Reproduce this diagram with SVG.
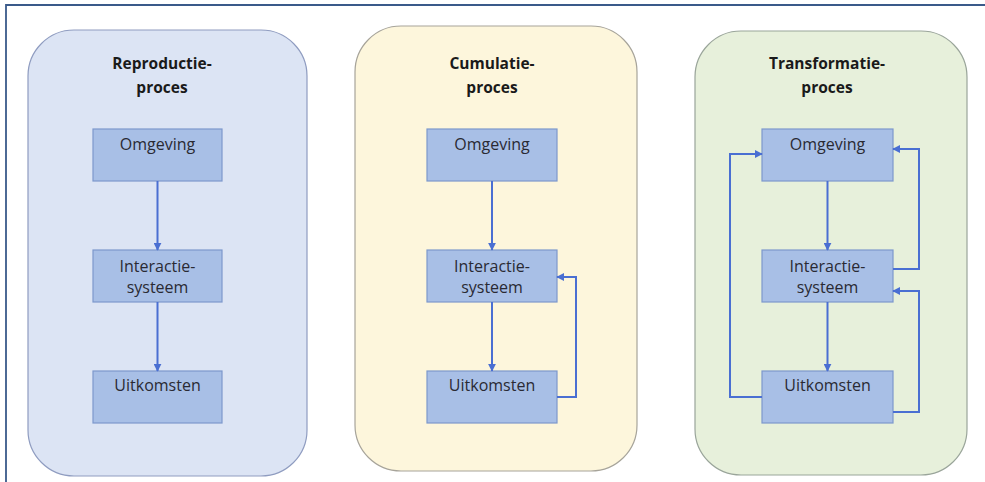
<svg xmlns="http://www.w3.org/2000/svg" width="985" height="482" viewBox="0 0 985 482">
  <style>
    .panel { stroke-width: 1.2; }
    .box { fill: #a8bfe6; stroke: #7d98cc; stroke-width: 1.2; }
    .title { font-family: "Open Sans", "Liberation Sans", sans-serif; font-size: 15.5px; font-weight: bold; fill: #1a1a1a; text-anchor: middle; }
    .label { font-family: "Open Sans", "Liberation Sans", sans-serif; font-size: 16px; fill: #2a2a33; text-anchor: middle; }
    .conn { fill: none; stroke: #4a6fd2; stroke-width: 2; marker-end: url(#arrow); }
  </style>
  <defs>
    <marker id="arrow" viewBox="0 0 10 10" refX="9" refY="5" markerWidth="4" markerHeight="4" orient="auto" markerUnits="strokeWidth">
      <path d="M0,0 L10,5 L0,10 z" fill="#4a6fd2"/>
    </marker>
  </defs>

  <rect width="985" height="482" fill="#ffffff"/>
  <!-- frame -->
  <path d="M6,482 V5 H985" fill="none" stroke="#3a5a8a" stroke-width="1.8"/>

  <!-- panel backgrounds -->
  <g id="panel-reproductie">
    <rect class="panel" x="28" y="30" width="279" height="446" rx="46" fill="#dce4f4" stroke="#8f9cc0"/>
    <text class="title" x="162" y="69">Reproductie-</text>
    <text class="title" x="162" y="93">proces</text>
  </g>
  <g id="panel-cumulatie">
    <rect class="panel" x="355" y="26" width="282" height="445" rx="46" fill="#fdf6dc" stroke="#a7a49a"/>
    <text class="title" x="492" y="69">Cumulatie-</text>
    <text class="title" x="492" y="93">proces</text>
  </g>
  <g id="panel-transformatie">
    <rect class="panel" x="695" y="31" width="272" height="444" rx="46" fill="#e7f0db" stroke="#9aa59a"/>
    <text class="title" x="827" y="69">Transformatie-</text>
    <text class="title" x="827" y="93">proces</text>
  </g>

  <!-- reproductie nodes -->
  <g id="r-omgeving">
    <rect class="box" x="93" y="129" width="129" height="52"/>
    <text class="label" x="157.5" y="150">Omgeving</text>
  </g>
  <g id="r-interactie">
    <rect class="box" x="93" y="250" width="129" height="52"/>
    <text class="label" x="157.5" y="272">Interactie-</text>
    <text class="label" x="157.5" y="293">systeem</text>
  </g>
  <g id="r-uitkomsten">
    <rect class="box" x="93" y="371" width="129" height="52"/>
    <text class="label" x="157.5" y="391">Uitkomsten</text>
  </g>

  <!-- cumulatie nodes -->
  <g id="c-omgeving">
    <rect class="box" x="427" y="129" width="130" height="52"/>
    <text class="label" x="492" y="150">Omgeving</text>
  </g>
  <g id="c-interactie">
    <rect class="box" x="427" y="250" width="130" height="52"/>
    <text class="label" x="492" y="272">Interactie-</text>
    <text class="label" x="492" y="293">systeem</text>
  </g>
  <g id="c-uitkomsten">
    <rect class="box" x="427" y="371" width="130" height="52"/>
    <text class="label" x="492" y="391">Uitkomsten</text>
  </g>

  <!-- transformatie nodes -->
  <g id="t-omgeving">
    <rect class="box" x="762" y="129" width="131" height="52"/>
    <text class="label" x="827.5" y="150">Omgeving</text>
  </g>
  <g id="t-interactie">
    <rect class="box" x="762" y="250" width="131" height="52"/>
    <text class="label" x="827.5" y="272">Interactie-</text>
    <text class="label" x="827.5" y="293">systeem</text>
  </g>
  <g id="t-uitkomsten">
    <rect class="box" x="762" y="371" width="131" height="52"/>
    <text class="label" x="827.5" y="391">Uitkomsten</text>
  </g>

  <!-- connectors -->
  <g id="connectors">
    <path class="conn" d="M157.5,181 V250"/>
    <path class="conn" d="M157.5,302 V371"/>

    <path class="conn" d="M492,181 V250"/>
    <path class="conn" d="M492,302 V371"/>
    <path class="conn" d="M557,397 H576 V277 H557"/>

    <path class="conn" d="M827.5,181 V250"/>
    <path class="conn" d="M827.5,302 V371"/>
    <path class="conn" d="M762,397 H730 V154 H762"/>
    <path class="conn" d="M893,269 H919 V149 H893"/>
    <path class="conn" d="M893,412 H919 V291 H893"/>
  </g>
</svg>
